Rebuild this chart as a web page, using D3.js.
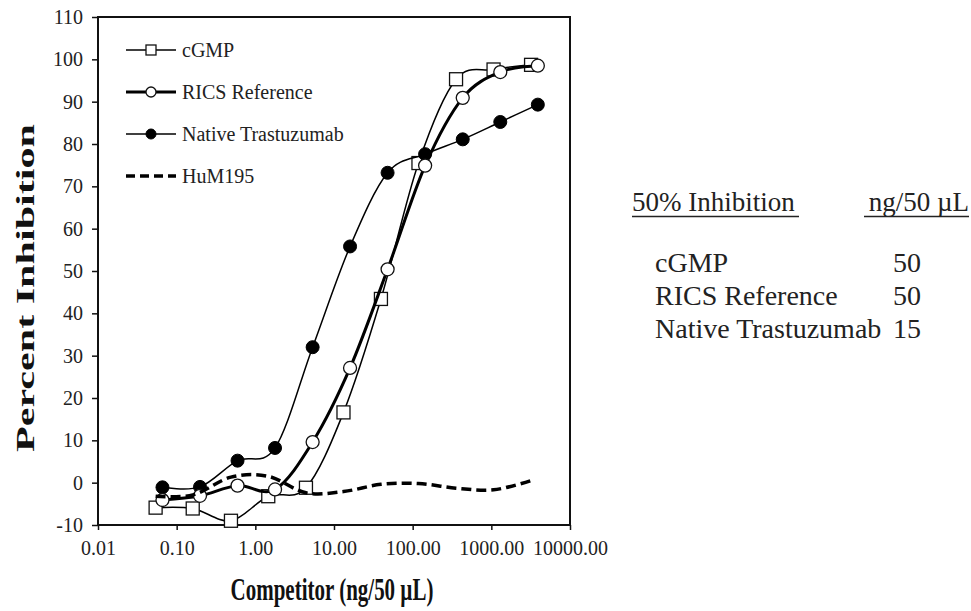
<!DOCTYPE html>
<html>
<head>
<meta charset="utf-8">
<script src="https://cdn.jsdelivr.net/npm/d3@7"></script>
<style>
  body { margin: 0; background: #fff; }
  svg { font-family: "Liberation Serif", "Times New Roman", serif; }
</style>
</head>
<body>
<svg width="971" height="611"></svg>
<script>
// competitor dose (ng/50 uL) and percent inhibition
var cgmpDose = [0.054, 0.16, 0.49, 1.46, 4.4, 13.2, 39.5, 118.5, 356, 1067, 3200];
var cgmpInh = [-5.9, -6.1, -9.0, -3.2, -1.2, 16.6, 43.4, 75.5, 95.3, 97.6, 98.7];

var ricsDose = [0.066, 0.198, 0.594, 1.78, 5.35, 16, 48, 144, 433, 1300, 3900];
var ricsInh = [-4.1, -3.1, -0.7, -1.6, 9.6, 27.1, 50.4, 74.9, 90.9, 97.0, 98.5];

var nativeDose = [0.066, 0.198, 0.594, 1.78, 5.35, 16, 48, 144, 433, 1300, 3900];
var nativeInh = [-1.1, -1.0, 5.2, 8.2, 32.0, 55.8, 73.2, 77.6, 81.1, 85.2, 89.3];

var humDose = [0.054, 0.16, 0.49, 1.46, 4.4, 13.2, 39.5, 118.5, 356, 1067, 3200];
var humInh = [-3.2, -2.9, 1.3, 1.5, -2.4, -2.1, -0.4, -0.2, -1.3, -1.7, 0.5];

var xTicks = [0.01, 0.1, 1, 10, 100, 1000, 10000];
var yTicks = [-10, 0, 10, 20, 30, 40, 50, 60, 70, 80, 90, 100, 110];

var tableHead = ['50% Inhibition', 'ng/50 \u00b5L'];
var tableNames = ['cGMP', 'RICS Reference', 'Native Trastuzumab'];
var tableValues = ['50', '50', '15'];

var series = [
  { name: 'cGMP', dose: cgmpDose, inh: cgmpInh, width: 1.5, marker: 'square', dash: null },
  { name: 'Native Trastuzumab', dose: nativeDose, inh: nativeInh, width: 1.5, marker: 'filled', dash: null },
  { name: 'RICS Reference', dose: ricsDose, inh: ricsInh, width: 3, marker: 'open', dash: null },
  { name: 'HuM195', dose: humDose, inh: humInh, width: 3.5, marker: 'none', dash: '10,5' }
];
var legendOrder = ['cGMP', 'RICS Reference', 'Native Trastuzumab', 'HuM195'];

var plotL = 98, plotR = 570, plotT = 17, plotB = 525;

var svg = d3.select('svg');

var x = d3.scaleLog().domain([0.01, 10000]).range([plotL, plotR]);
var y = d3.scaleLinear().domain([-10, 110]).range([plotB, plotT]);

var xAxis = svg.append('g')
  .attr('transform', 'translate(0,' + plotB + ')')
  .call(d3.axisBottom(x).tickValues(xTicks).tickFormat(d3.format('.2f')).tickSize(5).tickSizeOuter(0));
xAxis.selectAll('text').attr('dy', '1.1em');

var yAxis = svg.append('g')
  .attr('transform', 'translate(' + plotL + ',0)')
  .call(d3.axisLeft(y).tickValues(yTicks).tickFormat(d => String(d)).tickSize(6).tickSizeOuter(0));
yAxis.selectAll('text').attr('dx', '-0.3em');

svg.selectAll('.tick text')
  .attr('font-family', '"Liberation Serif", serif')
  .attr('font-size', 20)
  .attr('fill', '#222');
svg.selectAll('.tick line').attr('stroke', '#111').attr('stroke-width', 1.5);
svg.selectAll('.domain').remove();

svg.append('rect')
  .attr('x', plotL).attr('y', plotT)
  .attr('width', plotR - plotL).attr('height', plotB - plotT)
  .attr('fill', 'none').attr('stroke', '#111').attr('stroke-width', 2);

var line = d3.line()
  .x(d => x(d[0]))
  .y(d => y(d[1]))
  .curve(d3.curveCardinal.tension(0));

function drawMarker(g, kind, size) {
  if (kind === 'square') {
    g.append('rect')
      .attr('x', -size / 2).attr('y', -size / 2)
      .attr('width', size).attr('height', size)
      .attr('fill', '#fff').attr('stroke', '#111').attr('stroke-width', 1.3);
  } else if (kind === 'open') {
    g.append('circle').attr('r', size / 2)
      .attr('fill', '#fff').attr('stroke', '#111').attr('stroke-width', 1.3);
  } else if (kind === 'filled') {
    g.append('circle').attr('r', size / 2)
      .attr('fill', '#000').attr('stroke', '#000').attr('stroke-width', 1);
  }
}

series.forEach(function(s) {
  var pts = s.dose.map((d, i) => [d, s.inh[i]]);
  svg.append('path')
    .attr('d', line(pts))
    .attr('fill', 'none')
    .attr('stroke', '#000')
    .attr('stroke-width', s.width)
    .attr('stroke-dasharray', s.dash);
  if (s.marker !== 'none') {
    svg.append('g').selectAll('g')
      .data(pts)
      .enter().append('g')
      .attr('transform', d => 'translate(' + x(d[0]) + ',' + y(d[1]) + ')')
      .each(function() { drawMarker(d3.select(this), s.marker, 13); });
  }
});

// legend
var legend = svg.append('g');
legendOrder.forEach(function(name, i) {
  var s = series.find(d => d.name === name);
  var ly = 50 + i * 42;
  legend.append('line')
    .attr('x1', 126).attr('x2', 176)
    .attr('y1', ly).attr('y2', ly)
    .attr('stroke', '#000')
    .attr('stroke-width', s.width)
    .attr('stroke-dasharray', s.dash ? '9,5' : null);
  var m = legend.append('g').attr('transform', 'translate(151,' + ly + ')');
  drawMarker(m, s.marker, 10);
  legend.append('text')
    .attr('x', 182).attr('y', ly)
    .attr('dy', '0.35em')
    .attr('font-size', 20)
    .attr('fill', '#222')
    .text(name);
});

// axis titles (the source figure has them stretched)
svg.append('text')
  .attr('transform', 'translate(332,600) scale(1,1.5)')
  .attr('text-anchor', 'middle')
  .attr('font-size', 21)
  .attr('font-weight', 'bold')
  .attr('fill', '#111')
  .text('Competitor (ng/50 \u00b5L)');

svg.append('text')
  .attr('transform', 'translate(34,288) rotate(-90)')
  .attr('text-anchor', 'middle')
  .attr('font-size', 26)
  .attr('font-weight', 'bold')
  .attr('fill', '#111')
  .attr('textLength', 328)
  .attr('lengthAdjust', 'spacingAndGlyphs')
  .text('Percent Inhibition');

// 50% inhibition table
var table = svg.append('g').attr('fill', '#222');
table.append('text').attr('x', 632).attr('y', 211).attr('font-size', 27).text(tableHead[0]);
table.append('text').attr('x', 969).attr('y', 211).attr('font-size', 27).attr('text-anchor', 'end').text(tableHead[1]);
[[632, 799], [864, 969]].forEach(function(u) {
  table.append('line')
    .attr('x1', u[0]).attr('x2', u[1])
    .attr('y1', 216.5).attr('y2', 216.5)
    .attr('stroke', '#222').attr('stroke-width', 1.3);
});
tableNames.forEach(function(n, i) {
  var ty = 272 + i * 33;
  table.append('text').attr('x', 655).attr('y', ty).attr('font-size', 28).text(n);
  table.append('text').attr('x', 921).attr('y', ty).attr('font-size', 28).attr('text-anchor', 'end').text(tableValues[i]);
});
</script>
</body>
</html>
